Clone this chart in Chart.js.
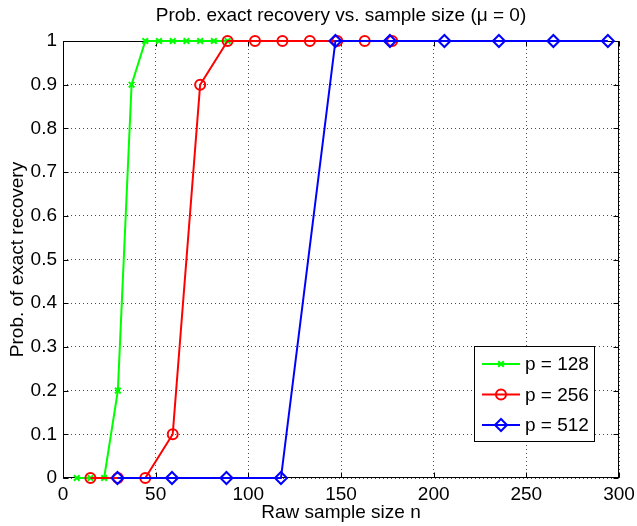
<!DOCTYPE HTML>
<html>
<head>
    <meta charset="utf-8" />
    <title>Prob. exact recovery vs. sample size</title>
    <script src="https://cdn.jsdelivr.net/npm/chart.js@4.4.1/dist/chart.umd.min.js"></script>
    <style type="text/css">
        body { margin: 0; background: #fff; }
        #chart { display: block; }
    </style>
</head>
<body>
    <canvas id="chart" width="637" height="526"></canvas>

    <script>
        // values
        var nP128 = [7.4, 14.8, 22.2, 29.6, 37.0, 44.4, 51.8, 59.2, 66.6, 74.0, 81.4, 88.8];
        var probP128 = [0, 0, 0, 0.2, 0.9, 1, 1, 1, 1, 1, 1, 1];
        var nP256 = [14.8, 29.6, 44.4, 59.2, 74.0, 88.8, 103.6, 118.4, 133.2, 148.0, 162.8, 177.6];
        var probP256 = [0, 0, 0, 0.1, 0.9, 1, 1, 1, 1, 1, 1, 1];
        var nP512 = [29.4, 58.8, 88.2, 117.6, 147.0, 176.4, 205.8, 235.2, 264.6, 294.0];
        var probP512 = [0, 0, 0, 0, 1, 1, 1, 1, 1, 1];
        var seriesLabels = ['p = 128', 'p = 256', 'p = 512'];
        var xTicks = [0, 50, 100, 150, 200, 250, 300];
        var yTicks = [0, 0.1, 0.2, 0.3, 0.4, 0.5, 0.6, 0.7, 0.8, 0.9, 1];
        var titleText = 'Prob. exact recovery vs. sample size (\u03bc = 0)';

        var FONT = 'Liberation Sans, Arial, sans-serif';

        function pts(xs, ys) {
            var out = [];
            for (var i = 0; i < xs.length; i++) out.push({ x: xs[i], y: ys[i] });
            return out;
        }

        // box round the axes with inward ticks, drawn under the lines
        var frame = {
            id: 'frame',
            beforeDatasetsDraw: function (chart) {
                var ctx = chart.ctx, a = chart.chartArea;
                var xs = chart.scales.x, ys = chart.scales.y;
                var L = Math.round(a.left) + 0.5, R = Math.round(a.right) - 0.5;
                var T = Math.round(a.top) + 0.5, B = Math.round(a.bottom) - 0.5;
                var len = 5;
                ctx.save();
                ctx.strokeStyle = '#000';
                ctx.lineWidth = 1;
                ctx.strokeRect(L, T, R - L, B - T);
                ctx.beginPath();
                xTicks.forEach(function (v) {
                    var p = Math.round(xs.getPixelForValue(v)) + 0.5;
                    ctx.moveTo(p, B); ctx.lineTo(p, B - len);
                    ctx.moveTo(p, T); ctx.lineTo(p, T + len);
                });
                yTicks.forEach(function (v) {
                    var p = Math.round(ys.getPixelForValue(v)) + 0.5;
                    ctx.moveTo(L, p); ctx.lineTo(L + len, p);
                    ctx.moveTo(R, p); ctx.lineTo(R - len, p);
                });
                ctx.stroke();
                // title centred over the axes
                ctx.fillStyle = '#000';
                ctx.font = '19px ' + FONT;
                ctx.textAlign = 'center';
                ctx.textBaseline = 'middle';
                ctx.fillText(titleText, (a.left + a.right) / 2, 16);
                ctx.restore();
            }
        };

        // legend box inside the plot, lower right
        var boxLegend = {
            id: 'boxLegend',
            afterDraw: function (chart) {
                var ctx = chart.ctx;
                var bx = 474.5, by = 346.5, bw = 120, bh = 95;
                ctx.save();
                ctx.fillStyle = '#fff';
                ctx.fillRect(bx, by, bw, bh);
                ctx.strokeStyle = '#000';
                ctx.lineWidth = 1;
                ctx.strokeRect(bx, by, bw, bh);
                var rows = [364, 394.5, 425];
                var order = [2, 1, 0];
                ctx.font = '19px ' + FONT;
                ctx.textBaseline = 'middle';
                ctx.textAlign = 'left';
                for (var i = 0; i < 3; i++) {
                    var ds = chart.data.datasets[order[i]];
                    var y = rows[i];
                    ctx.strokeStyle = ds.borderColor;
                    ctx.lineWidth = 2;
                    ctx.beginPath();
                    ctx.moveTo(482, y); ctx.lineTo(520, y);
                    ctx.stroke();
                    ctx.fillStyle = 'rgba(0,0,0,0)';
                    Chart.helpers.drawPoint(ctx, {
                        pointStyle: ds.pointStyle, radius: ds.pointRadius,
                        rotation: 0, borderWidth: 2
                    }, 501, y);
                    ctx.fillStyle = '#000';
                    ctx.fillText(ds.label, 525, y + 1);
                }
                ctx.restore();
            }
        };

        var ctx = document.getElementById('chart').getContext('2d');
        var chart = new Chart(ctx, {
            type: 'line',
            data: {
                datasets: [
                    {
                        label: seriesLabels[2], data: pts(nP512, probP512),
                        borderColor: '#0000ff', pointBorderColor: '#0000ff',
                        pointBackgroundColor: 'rgba(0,0,0,0)',
                        pointStyle: 'rectRot', pointRadius: 6, pointBorderWidth: 2,
                        borderWidth: 2, fill: false, tension: 0
                    },
                    {
                        label: seriesLabels[1], data: pts(nP256, probP256),
                        borderColor: '#ff0000', pointBorderColor: '#ff0000',
                        pointBackgroundColor: 'rgba(0,0,0,0)',
                        pointStyle: 'circle', pointRadius: 5, pointBorderWidth: 2,
                        borderWidth: 2, fill: false, tension: 0
                    },
                    {
                        label: seriesLabels[0], data: pts(nP128, probP128),
                        borderColor: '#00ff00', pointBorderColor: '#00ff00',
                        pointBackgroundColor: 'rgba(0,0,0,0)',
                        pointStyle: 'crossRot', pointRadius: 4, pointBorderWidth: 2,
                        borderWidth: 2, fill: false, tension: 0
                    }
                ]
            },
            options: {
                responsive: false,
                animation: false,
                clip: false,
                layout: { padding: { left: 0, right: 18, top: 41, bottom: 0 } },
                plugins: {
                    legend: { display: false },
                    tooltip: { enabled: false },
                    title: { display: false }
                },
                scales: {
                    x: {
                        type: 'linear', min: 0, max: 300,
                        afterFit: function (s) { s.height = 48; s.paddingLeft = 0; s.paddingRight = 0; },
                        afterBuildTicks: function (s) { s.ticks = xTicks.map(function (v) { return { value: v }; }); },
                        ticks: { color: '#000', font: { family: FONT, size: 19 }, padding: 5, maxRotation: 0 },
                        grid: { color: 'rgba(0,0,0,0.7)', drawTicks: false, lineWidth: 1 },
                        border: { display: false, dash: [1, 3] },
                        title: {
                            display: true, text: 'Raw sample size n', color: '#000',
                            font: { family: FONT, size: 19 }, padding: { top: 0, bottom: 2 }
                        }
                    },
                    y: {
                        type: 'linear', min: 0, max: 1,
                        afterFit: function (s) { s.width = 63; s.paddingTop = 0; s.paddingBottom = 0; },
                        afterBuildTicks: function (s) { s.ticks = yTicks.map(function (v) { return { value: v }; }); },
                        ticks: {
                            color: '#000', font: { family: FONT, size: 19 }, padding: 6,
                            callback: function (v) { return String(Math.round(v * 10) / 10); }
                        },
                        grid: { color: 'rgba(0,0,0,0.7)', drawTicks: false, lineWidth: 1 },
                        border: { display: false, dash: [1, 3] },
                        title: {
                            display: true, text: 'Prob. of exact recovery', color: '#000',
                            font: { family: FONT, size: 19 }, padding: { top: 6, bottom: 0 }
                        }
                    }
                }
            },
            plugins: [frame, boxLegend]
        });
    </script>
</body>
</html>
